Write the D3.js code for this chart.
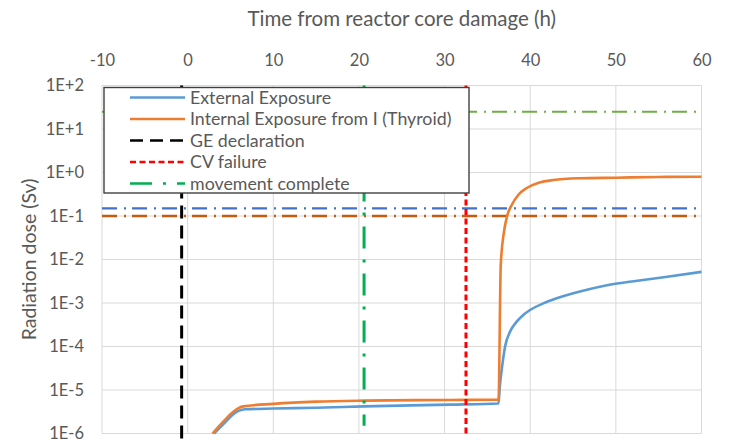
<!DOCTYPE html>
<html>
<head>
<meta charset="utf-8">
<script src="https://cdn.jsdelivr.net/npm/d3@7"></script>
<style>
  html, body { margin: 0; padding: 0; background: #fff; }
  svg { display: block; font-family: Lato, "Open Sans", sans-serif; }
</style>
</head>
<body>
<svg id="chart" width="732" height="445"></svg>
<script>
// Hours after reactor core damage, and doses (Sv) for each exposure pathway
const externalTimes = [3.1, 4.2, 5.3, 6.7, 10, 15, 20.6, 30.6, 36.3, 36.45, 36.67, 37.06, 37.64, 38.42, 39.19, 39.98, 41.53, 43.09, 45.03, 46.98, 49.12, 52.5, 56, 60];
const externalDose  = [1e-6, 1.66e-6, 2.75e-6, 3.6e-6, 3.75e-6, 3.9e-6, 4.2e-6, 4.6e-6, 4.9e-6, 1.2e-5, 2.9e-5, 9.9e-5, 2.19e-4, 3.72e-4, 5.3e-4, 6.9e-4, 9.8e-4, 1.28e-3, 1.67e-3, 2.1e-3, 2.6e-3, 3.25e-3, 4.0e-3, 5.2e-3];

const thyroidTimes = [2.9, 4.16, 5.33, 6.5, 10, 15, 20.6, 30.6, 36.3, 36.56, 36.94, 37.33, 37.84, 38.6, 39.6, 40.9, 42.7, 45.8, 50, 55, 60];
const thyroidDose  = [1e-6, 1.87e-6, 3.17e-6, 4.2e-6, 4.8e-6, 5.4e-6, 5.7e-6, 5.9e-6, 6.0e-6, 7.5e-3, 0.0436, 0.105, 0.179, 0.304, 0.44, 0.574, 0.673, 0.736, 0.76, 0.79, 0.80];

// Event times (h) and the dose range each event marker spans
const eventNames = ["GE declaration", "CV failure", "movement complete"];
const eventTimes = [-0.7, 32.5, 20.6];
const eventTop   = [100, 100, 100];
const eventLow   = [6e-7, 1e-6, 1.5e-6];

// Dose reference levels (Sv)
const referenceLevels = [25, 0.15, 0.1];

// Axis ticks
const xTicks = [-10, 0, 10, 20, 30, 40, 50, 60];
const xTickLabels = ["-10", "0", "10", "20", "30", "40", "50", "60"];
const yTicks = [1e2, 1e1, 1e0, 1e-1, 1e-2, 1e-3, 1e-4, 1e-5, 1e-6];
const yTickLabels = ["1E+2", "1E+1", "1E+0", "1E-1", "1E-2", "1E-3", "1E-4", "1E-5", "1E-6"];

const seriesNames = ["External Exposure", "Internal Exposure from I (Thyroid)"];

// ---- styles ----
const seriesStyle = [
  { color: "#5B9BD5", width: 2.6 },
  { color: "#ED7D31", width: 2.6 }
];
const eventStyle = [
  { color: "#000000", width: 3, dash: "13,7" },
  { color: "#FF0000", width: 3, dash: "6,3.5" },
  { color: "#00B050", width: 3, dash: "22,11,3,11" }
];
const refStyle = [
  { color: "#70AD47", width: 2, dash: "15,7,2,6" },
  { color: "#4472C4", width: 2.4, dash: "15,7,2,6" },
  { color: "#C55A11", width: 2.4, dash: "15,7,2,6" }
];

const svg = d3.select("#chart");
const margin = { left: 102, right: 30.5, top: 85.5, bottom: 11.5 };
const W = 732, H = 445;

const x = d3.scaleLinear().domain([-10, 60]).range([margin.left, W - margin.right]);
const y = d3.scaleLog().domain([1e-6, 1e2]).range([H - margin.bottom, margin.top]);

const textColor = "#595959";

// gridlines
const grid = svg.append("g");
grid.selectAll("line.v").data(xTicks).join("line")
  .attr("x1", d => x(d)).attr("x2", d => x(d))
  .attr("y1", y(1e2)).attr("y2", y(1e-6))
  .attr("stroke", "#D9D9D9").attr("stroke-width", 1);
grid.selectAll("line.h").data(yTicks).join("line")
  .attr("x1", x(-10)).attr("x2", x(60))
  .attr("y1", d => y(d)).attr("y2", d => y(d))
  .attr("stroke", "#D9D9D9").attr("stroke-width", 1);

// top x axis
const xAxis = svg.append("g")
  .attr("transform", `translate(0,${margin.top - 20})`)
  .call(d3.axisTop(x).tickValues(xTicks).tickSize(0).tickPadding(0)
    .tickFormat((d, i) => xTickLabels[i]));
xAxis.select(".domain").remove();
xAxis.selectAll("text").attr("fill", textColor).style("font-size", "16.5px").style("font-family", "Lato, sans-serif");

// left y axis
const yAxis = svg.append("g")
  .attr("transform", `translate(${margin.left - 18},0)`)
  .call(d3.axisLeft(y).tickValues(yTicks).tickSize(0).tickPadding(0)
    .tickFormat((d, i) => yTickLabels[i]));
yAxis.select(".domain").remove();
yAxis.selectAll("text").attr("fill", textColor).style("font-size", "16.5px").style("font-family", "Lato, sans-serif");

// axis titles
svg.append("text")
  .attr("x", (x(-10) + x(60)) / 2).attr("y", 26)
  .attr("text-anchor", "middle").attr("fill", textColor)
  .style("font-size", "20.5px")
  .text("Time from reactor core damage (h)");
svg.append("text")
  .attr("transform", `translate(36,${(y(1e2) + y(1e-6)) / 2}) rotate(-90)`)
  .attr("text-anchor", "middle").attr("fill", textColor)
  .style("font-size", "19.5px")
  .text("Radiation dose (Sv)");

// reference levels
svg.append("g").selectAll("line").data(referenceLevels).join("line")
  .attr("x1", x(-10)).attr("x2", x(60))
  .attr("y1", d => y(d)).attr("y2", d => y(d))
  .attr("stroke", (d, i) => refStyle[i].color)
  .attr("stroke-width", (d, i) => refStyle[i].width)
  .attr("stroke-dasharray", (d, i) => refStyle[i].dash);

// dose curves
const line = d3.line().x(d => x(d[0])).y(d => y(d[1])).curve(d3.curveMonotoneX);
const seriesData = [
  d3.zip(externalTimes, externalDose),
  d3.zip(thyroidTimes, thyroidDose)
];
svg.append("g").selectAll("path").data(seriesData).join("path")
  .attr("d", line)
  .attr("fill", "none")
  .attr("stroke", (d, i) => seriesStyle[i].color)
  .attr("stroke-width", (d, i) => seriesStyle[i].width)
  .attr("stroke-linejoin", "round");

// event markers
svg.append("g").selectAll("line").data(eventTimes).join("line")
  .attr("x1", d => x(d)).attr("x2", d => x(d))
  .attr("y1", (d, i) => y(eventTop[i])).attr("y2", (d, i) => y(eventLow[i]))
  .attr("stroke", (d, i) => eventStyle[i].color)
  .attr("stroke-width", (d, i) => eventStyle[i].width)
  .attr("stroke-dasharray", (d, i) => eventStyle[i].dash);

// legend
const legendItems = [
  { name: seriesNames[0], ...seriesStyle[0] },
  { name: seriesNames[1], ...seriesStyle[1] },
  { name: eventNames[0], ...eventStyle[0] },
  { name: eventNames[1], ...eventStyle[1] },
  { name: eventNames[2], ...eventStyle[2] }
];
const legend = svg.append("g").attr("transform", "translate(104,87.5)");
legend.append("rect")
  .attr("width", 365).attr("height", 105.5)
  .attr("fill", "#fff").attr("stroke", "#404040").attr("stroke-width", 1.4);
const row = legend.selectAll("g.row").data(legendItems).join("g")
  .attr("transform", (d, i) => `translate(0,${10 + i * 21.5})`);
row.append("line")
  .attr("x1", 26).attr("x2", 81)
  .attr("stroke", d => d.color).attr("stroke-width", 2.6)
  .attr("stroke-dasharray", d => d.dash || null);
row.append("text")
  .attr("x", 86).attr("dy", "0.35em")
  .attr("fill", textColor).style("font-size", "17.8px")
  .text(d => d.name);
</script>
</body>
</html>
